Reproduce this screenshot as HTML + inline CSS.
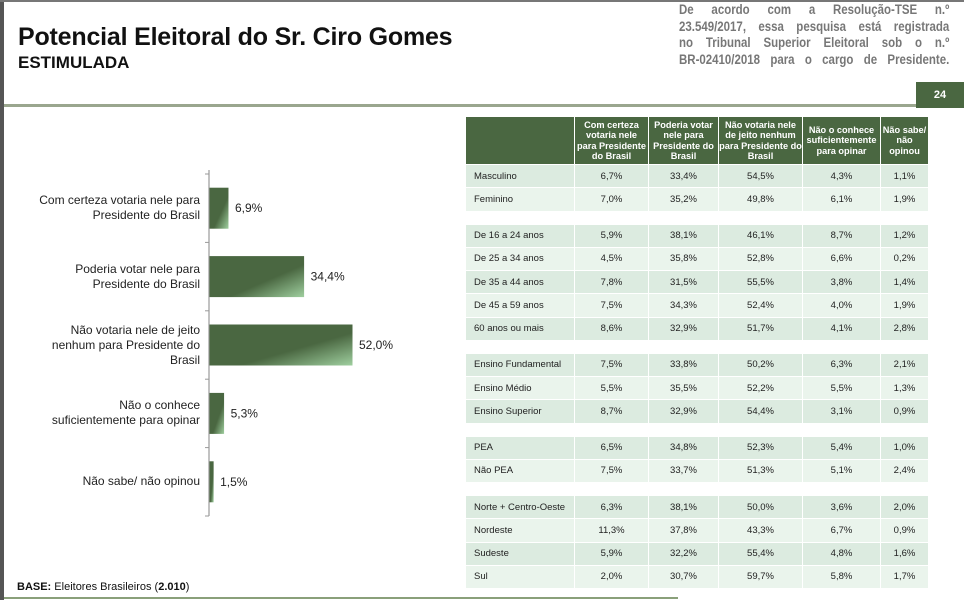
<!DOCTYPE html>
<html><head><meta charset="utf-8"><style>
body{margin:0;width:964px;height:600px;overflow:hidden;background:#fff;font-family:"Liberation Sans",sans-serif;position:relative}
.abs{position:absolute}
.cell{position:absolute;display:flex;align-items:center;justify-content:center;font-size:9.5px;color:#222;box-sizing:border-box}
.hd{background:#4a6741;color:#fff;font-weight:bold;text-align:center;line-height:10.5px;font-size:9.2px}
.ln{width:318px;height:16.5px;text-align:justify;text-align-last:justify;white-space:nowrap;transform-origin:0 0;transform:scaleX(0.85)}
</style></head><body>
<div class="abs" style="left:0;top:0;width:4px;height:600px;background:#555"></div>
<div class="abs" style="left:0;top:0;width:964px;height:2px;background:#777"></div>
<div class="abs" style="left:18px;top:23px;font-size:25px;font-weight:bold;color:#111;letter-spacing:-0.2px">Potencial Eleitoral do Sr. Ciro Gomes</div>
<div class="abs" style="left:18px;top:53px;font-size:17px;font-weight:bold;color:#111">ESTIMULADA</div>
<div class="abs" style="left:679px;top:2px;width:270px;font-size:13.5px;font-weight:bold;color:#777;line-height:16.5px">
<div class="ln">De acordo com a Resolução-TSE n.º</div>
<div class="ln">23.549/2017, essa pesquisa está registrada</div>
<div class="ln">no Tribunal Superior Eleitoral sob o n.º</div>
<div class="ln">BR-02410/2018 para o cargo de Presidente.</div>
</div>
<div class="abs" style="left:4px;top:104px;width:912px;height:3px;background:#9aa68e"></div>
<div class="abs" style="left:916px;top:82px;width:48px;height:26px;background:#4a6741;color:#fff;font-weight:bold;font-size:11px;display:flex;align-items:center;justify-content:center">24</div>
<div class="abs" style="left:4px;top:597px;width:674px;height:2px;background:#8aa07a"></div>
<div class="abs" style="left:17px;top:581px;font-size:11px;color:#111"><b>BASE:</b> Eleitores Brasileiros (<b>2.010</b>)</div>

<svg class="abs" style="left:0;top:0" width="964" height="600" id="chart">
<defs><linearGradient id="g" x1="0" y1="0" x2="1" y2="1"><stop offset="0.6" stop-color="#4a6741"/><stop offset="1" stop-color="#9fcf9f"/></linearGradient></defs>
</svg>
<div id="labels"></div>
<div id="table"></div>

<script>
const categories=["Com certeza votaria nele para|Presidente do Brasil","Poderia votar nele para|Presidente do Brasil","Não votaria nele de jeito|nenhum para Presidente do|Brasil","Não o conhece|suficientemente para opinar","Não sabe/ não opinou"];
const values=[6.9,34.4,52.0,5.3,1.5];
const valueLabels=["6,9%","34,4%","52,0%","5,3%","1,5%"];

const headers=["Com certeza votaria nele para Presidente do Brasil","Poderia votar nele para Presidente do Brasil","Não votaria nele de jeito nenhum para Presidente do Brasil","Não o conhece suficientemente para opinar","Não sabe/ não opinou"];
const rowLabels=["Masculino","Feminino","De 16 a 24 anos","De 25 a 34 anos","De 35 a 44 anos","De 45 a 59 anos","60 anos ou mais","Ensino Fundamental","Ensino Médio","Ensino Superior","PEA","Não PEA","Norte + Centro-Oeste","Nordeste","Sudeste","Sul"];
const groups=[0,0,1,1,1,1,1,2,2,2,3,3,4,4,4,4];
const col1=["6,7%","7,0%","5,9%","4,5%","7,8%","7,5%","8,6%","7,5%","5,5%","8,7%","6,5%","7,5%","6,3%","11,3%","5,9%","2,0%"];
const col2=["33,4%","35,2%","38,1%","35,8%","31,5%","34,3%","32,9%","33,8%","35,5%","32,9%","34,8%","33,7%","38,1%","37,8%","32,2%","30,7%"];
const col3=["54,5%","49,8%","46,1%","52,8%","55,5%","52,4%","51,7%","50,2%","52,2%","54,4%","52,3%","51,3%","50,0%","43,3%","55,4%","59,7%"];
const col4=["4,3%","6,1%","8,7%","6,6%","3,8%","4,0%","4,1%","6,3%","5,5%","3,1%","5,4%","5,1%","3,6%","6,7%","4,8%","5,8%"];
const col5=["1,1%","1,9%","1,2%","0,2%","1,4%","1,9%","2,8%","2,1%","1,3%","0,9%","1,0%","2,4%","2,0%","0,9%","1,6%","1,7%"];

const svg=document.getElementById('chart');
const NS="http://www.w3.org/2000/svg";
const x0=209, pxPer=2.75, yTop=174, band=68.4;
const xs=v=>x0+v*pxPer;
const ys=i=>yTop+i*band;
function mk(t,a){const e=document.createElementNS(NS,t);for(const k in a)e.setAttribute(k,a[k]);svg.appendChild(e);return e;}
const ax=mk('line',{x1:x0,y1:yTop-4,x2:x0,y2:ys(values.length),stroke:'#999','stroke-width':1.2});


for(let i=0;i<=values.length;i++){
  const t=mk('line',{x1:x0-4,y1:ys(i),x2:x0,y2:ys(i),stroke:'#999'});
  
  
}
const lab=document.getElementById('labels');
values.forEach((v,i)=>{
  const yc=ys(i)+band/2;
  const r=mk('rect',{x:x0+0.5,y:yc-20.5,width:Math.max(xs(v)-x0,1),height:41,fill:'url(#g)'});
  
  
  const tx=mk('text',{x:xs(v)+7,y:yc+4,'font-size':12,fill:'#222','font-family':'Liberation Sans, sans-serif'});
  tx.textContent=valueLabels[i];
  
  
  const d=document.createElement('div');
  d.className='abs';
  d.style.cssText='right:'+(964-200)+'px;top:'+(yc-categories[i].split('|').length*7.5)+'px;text-align:right;font-size:12px;line-height:15px;color:#222';
  d.innerHTML=categories[i].split('|').join('<br>');
  
  
  lab.appendChild(d);
});

const tb=document.getElementById('table');
const colX=[466,575,649,719,803,881,929];
function cell(x,y,w,h,html,cls,bg,align){
  const d=document.createElement('div');
  d.className='cell '+(cls||'');
  d.style.left=x+'px';d.style.top=y+'px';d.style.width=w+'px';d.style.height=h+'px';
  if(bg)d.style.background=bg;
  if(align){d.style.justifyContent='flex-start';d.style.paddingLeft='8px';}
  d.innerHTML=html;
  tb.appendChild(d);return d;
}
const h0=cell(colX[0],117,colX[1]-colX[0]-1,47,'','hd');


headers.forEach((h,j)=>{
  const c=cell(colX[j+1],117,colX[j+2]-colX[j+1]-1,47,h,'hd');
  
  
});
const cols=[col1,col2,col3,col4,col5];
const rowH=23.25, gap=13;
rowLabels.forEach((r,i)=>{
  const y=165+i*rowH+groups[i]*gap;
  let idx=0;for(let k=0;k<i;k++)if(groups[k]===groups[i])idx++;
  const bg=idx%2===0?'#dcebe0':'#eaf4ec';
  const l=cell(colX[0],y,colX[1]-colX[0]-1,rowH-1,r,'',bg,true);
  
  
  cols.forEach((c,j)=>{
    const e=cell(colX[j+1],y,colX[j+2]-colX[j+1]-1,rowH-1,c[i],'',bg);
    
    
  });
});
</script>
</body></html>
